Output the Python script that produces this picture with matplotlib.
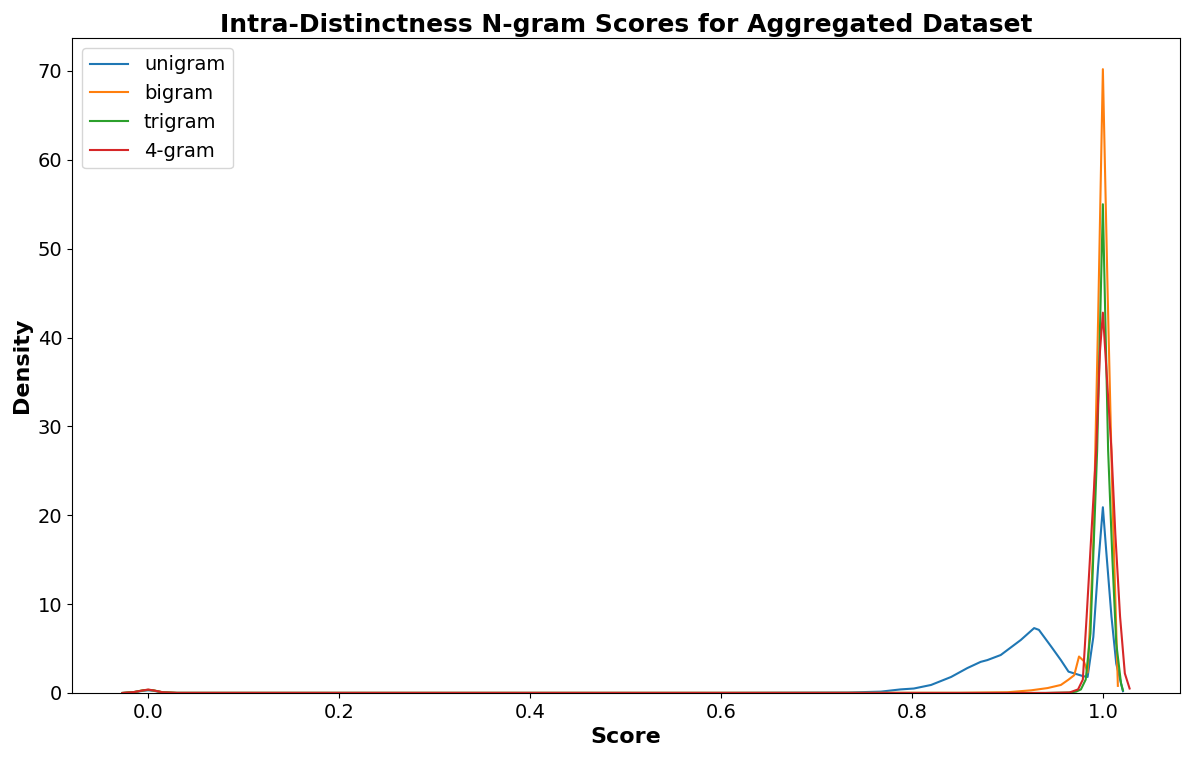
import matplotlib
matplotlib.use("Agg")
import matplotlib.pyplot as plt

uni_x = [-0.027, -0.015, -0.005, 0.0, 0.005, 0.015, 0.03, 0.6, 0.7, 0.733, 0.7675, 0.788,
         0.802, 0.82, 0.841, 0.858, 0.872, 0.879, 0.893, 0.914, 0.928, 0.933, 0.946, 0.956,
         0.964, 0.973, 0.979, 0.984, 0.990, 0.995, 1.0, 1.0035, 1.009, 1.014, 1.021]
uni_y = [0, 0.08, 0.25, 0.3, 0.25, 0.06, 0.01, 0.01, 0.04, 0.05, 0.15, 0.4,
         0.5, 0.9, 1.8, 2.8, 3.5, 3.7, 4.27, 5.96, 7.3, 7.1, 5.2, 3.7,
         2.4, 2.1, 1.9, 1.8, 6.3, 14.2, 20.9, 16, 8.6, 3.3, 0.2]

bi_x = [-0.027, -0.015, -0.005, 0.0, 0.005, 0.015, 0.03, 0.85, 0.9, 0.925, 0.942, 0.956,
        0.964, 0.970, 0.975, 0.980, 0.984, 0.987, 0.990, 0.995, 1.0, 1.005, 1.010, 1.0157]
bi_y = [0, 0.1, 0.3, 0.35, 0.3, 0.08, 0.01, 0.02, 0.08, 0.3, 0.55, 0.9,
        1.5, 2.0, 4.1, 3.6, 2.3, 9, 17, 42, 70.2, 45, 22, 0.8]

tri_x = [-0.027, -0.015, -0.005, 0.0, 0.005, 0.015, 0.03, 0.94, 0.965, 0.972, 0.977,
         0.982, 0.987, 0.994, 1.0, 1.0055, 1.010, 1.014, 1.019, 1.021]
tri_y = [0, 0.1, 0.3, 0.35, 0.3, 0.08, 0.01, 0.0, 0.05, 0.15, 0.4,
         1.5, 6.7, 27.3, 55, 27.3, 15, 5.6, 1.1, 0.3]

four_x = [-0.027, -0.015, -0.005, 0.0, 0.005, 0.015, 0.03, 0.94, 0.965, 0.974, 0.979,
          0.983, 0.988, 0.993, 0.997, 1.0, 1.0045, 1.009, 1.013, 1.018, 1.023, 1.028]
four_y = [0, 0.1, 0.3, 0.38, 0.3, 0.08, 0.01, 0.0, 0.05, 0.4, 1.5,
          8.6, 18, 27.3, 38.5, 42.8, 35, 27.3, 18, 8.6, 2.2, 0.5]

series = [
    ("unigram", uni_x, uni_y, "#1f77b4"),
    ("bigram", bi_x, bi_y, "#ff7f0e"),
    ("trigram", tri_x, tri_y, "#2ca02c"),
    ("4-gram", four_x, four_y, "#d62728"),
]

fig, ax = plt.subplots(figsize=(11.89, 7.58), dpi=100)

for nombre, xs, ys, color in series:
    ax.plot(xs, ys, label=nombre, color=color, linewidth=1.5)

ax.set_ylim(bottom=0)
ax.set_title("Intra-Distinctness N-gram Scores for Aggregated Dataset",
             fontsize=18, fontweight="bold", pad=4)
ax.set_xlabel("Score", fontsize=16, fontweight="bold")
ax.set_ylabel("Density", fontsize=16, fontweight="bold")
ax.tick_params(axis="both", labelsize=14)
ax.legend(loc="upper left", fontsize=14)

fig.subplots_adjust(left=0.0606, right=0.9924, top=0.9499, bottom=0.0858)
plt.savefig("out.png", dpi=100)
plt.close()
